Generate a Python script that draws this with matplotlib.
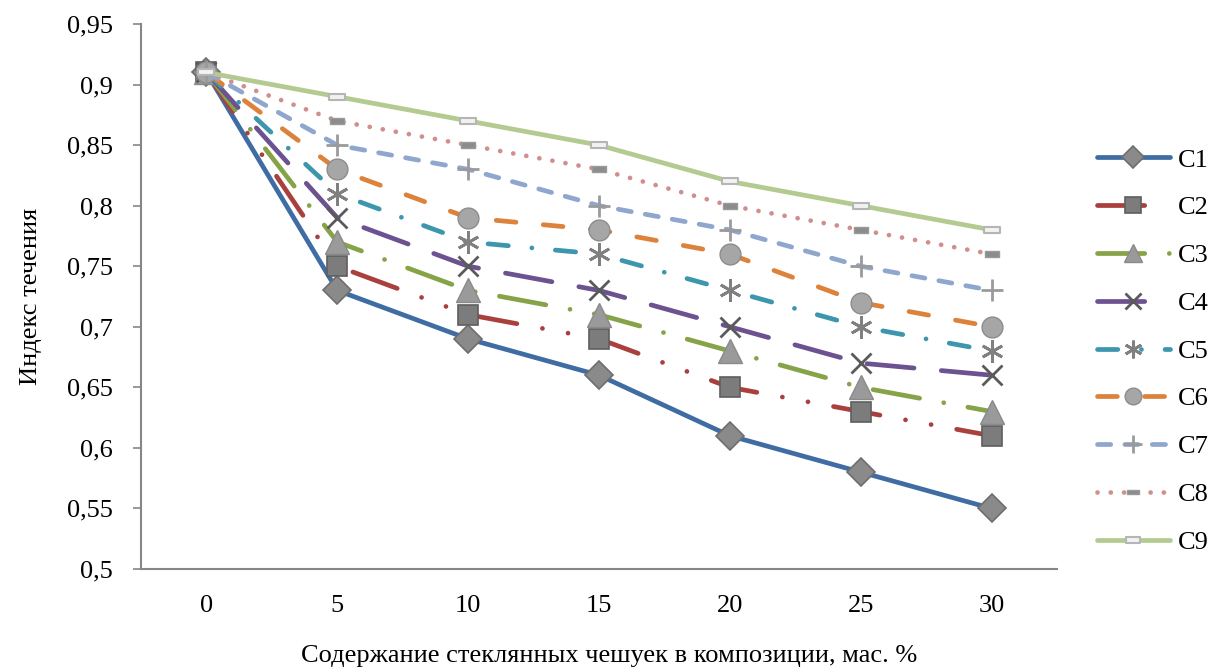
import matplotlib
matplotlib.use("Agg")
import matplotlib.pyplot as plt
from matplotlib.path import Path

plt.rcParams['font.family'] = ['Liberation Serif', 'DejaVu Serif']

# data
categories = ['0', '5', '10', '15', '20', '25', '30']
c1 = [0.91, 0.73, 0.69, 0.66, 0.61, 0.58, 0.55]
c2 = [0.91, 0.75, 0.71, 0.69, 0.65, 0.63, 0.61]
c3 = [0.91, 0.77, 0.73, 0.71, 0.68, 0.65, 0.63]
c4 = [0.91, 0.79, 0.75, 0.73, 0.70, 0.67, 0.66]
c5 = [0.91, 0.81, 0.77, 0.76, 0.73, 0.70, 0.68]
c6 = [0.91, 0.83, 0.79, 0.78, 0.76, 0.72, 0.70]
c7 = [0.91, 0.85, 0.83, 0.80, 0.78, 0.75, 0.73]
c8 = [0.91, 0.87, 0.85, 0.83, 0.80, 0.78, 0.76]
c9 = [0.91, 0.89, 0.87, 0.85, 0.82, 0.80, 0.78]
names = ['C1', 'C2', 'C3', 'C4', 'C5', 'C6', 'C7', 'C8', 'C9']
yticks = [0.5, 0.55, 0.6, 0.65, 0.7, 0.75, 0.8, 0.85, 0.9, 0.95]
ytick_labels = ['0,5', '0,55', '0,6', '0,65', '0,7', '0,75', '0,8', '0,85', '0,9', '0,95']

series = [c1, c2, c3, c4, c5, c6, c7, c8, c9]

colors = ['#3F6CA3', '#A9403D', '#86A447', '#6C5290', '#3C96AD',
          '#DC823A', '#8FA6CF', '#D08F8E', '#B3CB90']

# small horizontal bars for C8 / C9 markers
bar = Path([(-1, -0.4), (1, -0.4), (1, 0.4), (-1, 0.4), (-1, -0.4)],
           [Path.MOVETO, Path.LINETO, Path.LINETO, Path.LINETO, Path.CLOSEPOLY])

styles = [
    dict(ls='-', marker='D', ms=14, mfc='#8a8a8a', mec='#6e6e6e', mew=1.2),
    dict(ls=(0, (10, 5.5, 0.01, 5.5, 0.01, 5.5)), marker='s', ms=15, mfc='#7c7c7c', mec='#5e5e5e', mew=1.2),
    dict(ls=(0, (10, 5.2, 0.01, 5.2)), marker='^', ms=17, mfc='#9a9a9a', mec='#8a8a8a', mew=1.0),
    dict(ls=(0, (10, 5.8)), marker='x', ms=15, mfc='none', mec='#5a5a5a', mew=2.0),
    dict(ls=(0, (4.3, 5.0, 0.01, 5.0)), marker=(6, 2, 0), ms=16, mfc='none', mec='#808080', mew=2.0),
    dict(ls=(0, (4.2, 5.8)), marker='o', ms=15, mfc='#a6a6a6', mec='#8c8c8c', mew=1.0),
    dict(ls=(0, (2.8, 3.0)), marker='+', ms=16, mfc='none', mec='#9a9a9a', mew=2.0),
    dict(ls=(0, (0.01, 2.8)), marker=bar, ms=10, mfc='#8c8c8c', mec='#9a9a9a', mew=1.0),
    dict(ls='-', marker=bar, ms=12, mfc='#f2f2f2', mec='#b5b5b5', mew=1.5),
]

fig = plt.figure(figsize=(12.11, 6.70), dpi=100)
ax = fig.add_axes([141 / 1211, 1 - 569 / 670, (1057 - 141) / 1211, (569 - 24) / 670])

x = list(range(len(categories)))
for vals, name, col, st in zip(series, names, colors, styles):
    ax.plot(x, vals, color=col, lw=3.4, dash_capstyle='round',
            solid_capstyle='round', label=name, **st)

ax.set_xlim(-0.5, len(categories) - 0.5)
ax.set_ylim(0.5, 0.95)
ax.set_xticks(x)
ax.set_xticklabels(categories)
ax.set_yticks(yticks)
ax.set_yticklabels(ytick_labels)
ax.tick_params(axis='x', length=0, pad=19, labelsize=19)
ax.tick_params(axis='y', length=6, width=1.2, color='#868686', pad=14, labelsize=19)

for s in ['top', 'right']:
    ax.spines[s].set_visible(False)
for s in ['left', 'bottom']:
    ax.spines[s].set_color('#868686')
    ax.spines[s].set_linewidth(1.5)

ax.set_ylabel('Индекс течения', fontsize=19, labelpad=18)
fig.text(609 / 1211, 1 - 656 / 670, 'Содержание стеклянных чешуек в композиции, мас. %',
         fontsize=19, ha='center', va='center')

leg = fig.legend(loc='center left', bbox_to_anchor=(1097 / 1211, 1 - 351 / 670),
                 frameon=False, fontsize=19, handlelength=2.75, handletextpad=0.3,
                 labelspacing=0.92, numpoints=1, markerscale=0.8,
                 borderpad=0, borderaxespad=0)

fig.savefig('out.png', dpi=100)
